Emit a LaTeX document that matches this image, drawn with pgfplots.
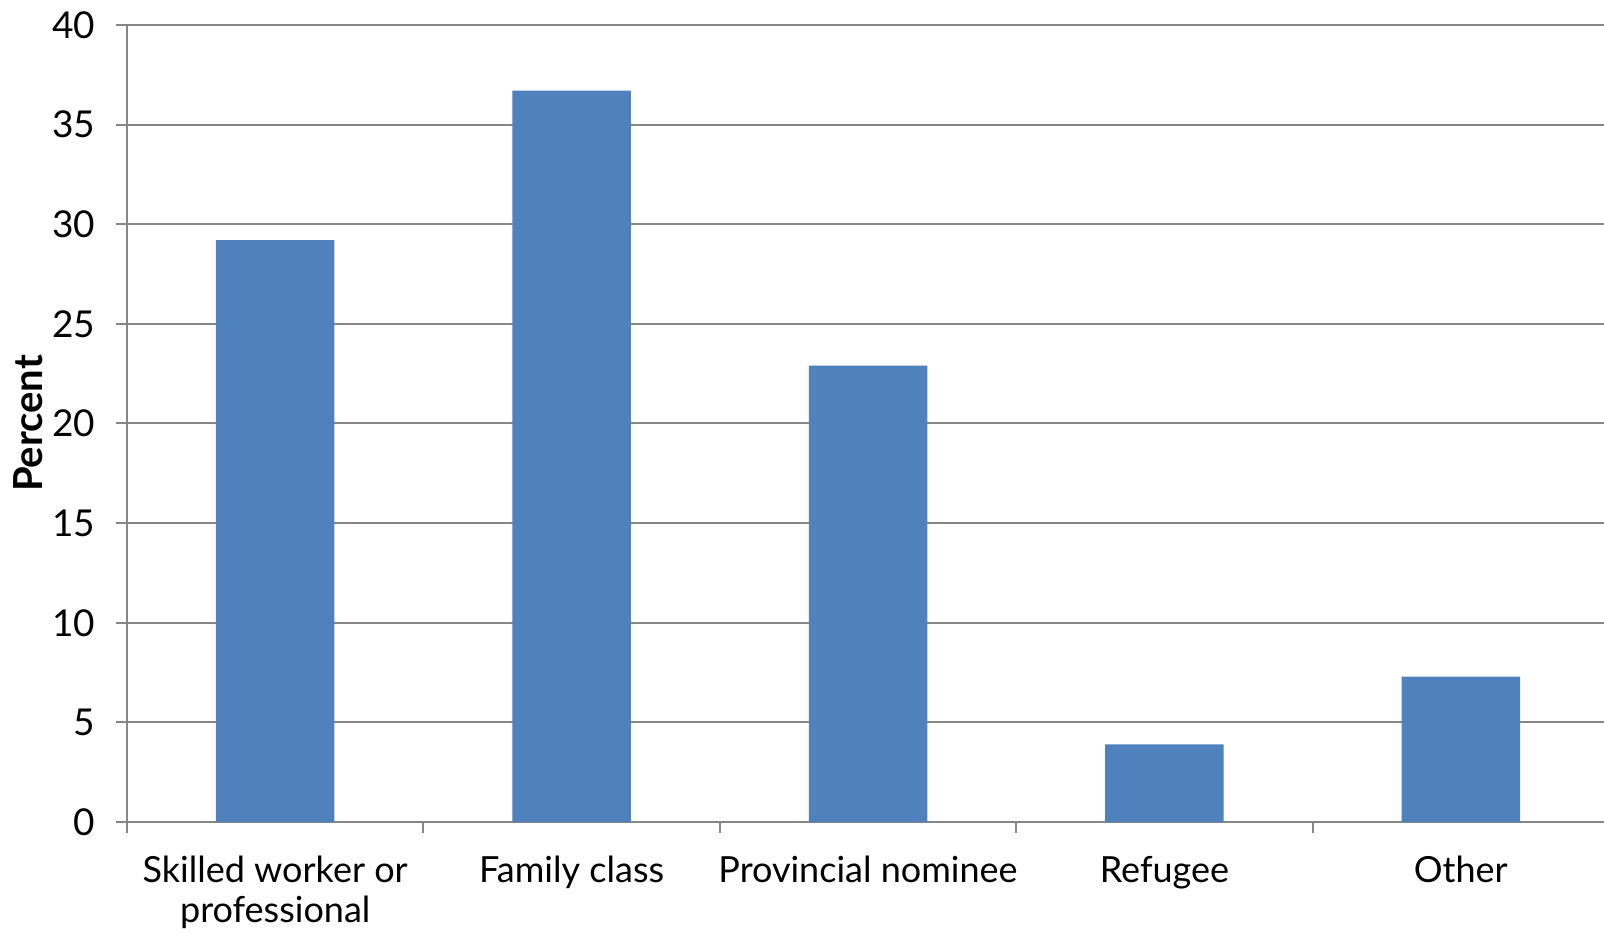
\documentclass[border=0pt]{standalone}
\usepackage{fontspec}
\setmainfont{Lato}
\usepackage{pgfplots}
\pgfplotsset{compat=1.18}
\definecolor{barblue}{HTML}{4F81BD}
\definecolor{gridgray}{RGB}{134,134,134}

\begin{document}
\begin{tikzpicture}
\useasboundingbox (0,0) rectangle (802pt,466pt);
\begin{axis}[
    at={(63.5pt,55pt)}, anchor=south west,
    scale only axis, width=738.5pt, height=398.5pt,
    xmin=-0.5, xmax=4.483, ymin=0, ymax=40,
    axis lines*=left,
    axis line style={gridgray, line width=1pt},
    ytick={0,5,...,40},
    ymajorgrids=true,
    grid style={gridgray, line width=1pt},
    xtick={0,...,4},
    xticklabels={{Skilled worker or\\professional}, Family class, Provincial nominee, Refugee, Other},
    minor xtick={-0.5,0.5,1.5,2.5,3.5},
    major x tick style={draw=none},
    tick style={gridgray, line width=1pt},
    tick align=outside,
    major tick length=5.5pt, minor tick length=5.5pt,
    yticklabel style={font=\fontsize{18.5}{18.5}\selectfont, /pgf/number format/assume math mode=true, xshift=-7pt},
    xticklabel style={font=\fontsize{18}{20}\selectfont, align=center, yshift=-8pt},
    ylabel=Percent,
    ylabel style={font=\fontsize{20}{20}\bfseries, at={(axis description cs:-0.0668,0.5)}, anchor=center, rotate=0},
]
\addplot[ybar, bar width=0.4, fill=barblue, draw=none] coordinates {
    (0,29.2)
    (1,36.7)
    (2,22.9)
    (3,3.9)
    (4,7.3)
};
\end{axis}
\end{tikzpicture}
\end{document}
